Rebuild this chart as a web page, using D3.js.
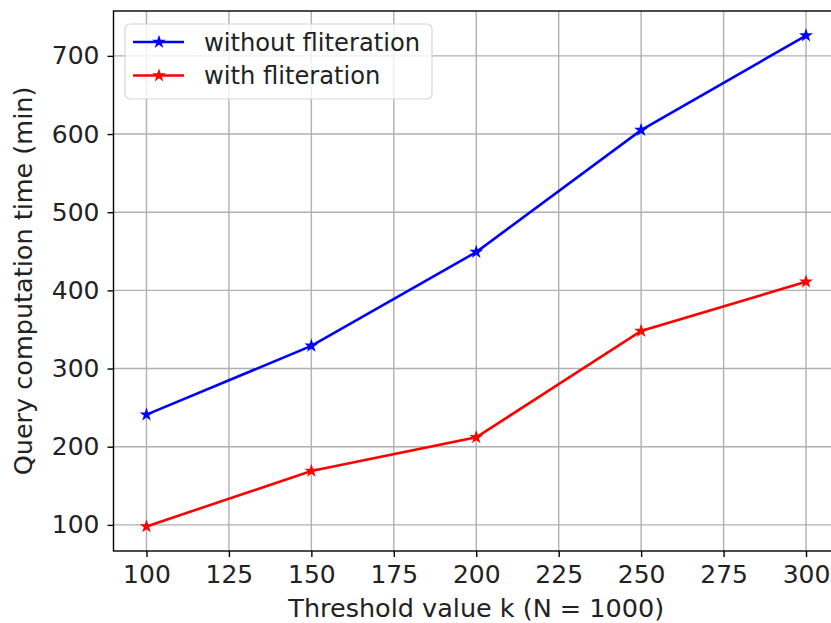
<!DOCTYPE html>
<html>
<head>
<meta charset="utf-8">
<script src="https://cdn.jsdelivr.net/npm/d3@7"></script>
<style>
  body { margin: 0; background: #fff; }
  svg { font-family: "DejaVu Sans", sans-serif; }
</style>
</head>
<body>
<svg id="canvas" width="831" height="623"></svg>
<script>
window.addEventListener('DOMContentLoaded', () => {

const kValues = [100, 150, 200, 250, 300]
const withoutFilter = [241, 329, 449, 605, 726]
const withFilter = [98, 169, 212, 348, 411]
const xTicks = [100, 125, 150, 175, 200, 225, 250, 275, 300]
const yTicks = [100, 200, 300, 400, 500, 600, 700]
const seriesNames = ['without fliteration', 'with fliteration']
const seriesColors = ['#0000ff', '#ff0000']

let svg = d3.select('#canvas')

const left = 113.5, right = 839, top = 11, bottom = 551
const fontSize = 25

let x = d3.scaleLinear().domain([90, 310]).range([left, right])
let y = d3.scaleLinear().domain([66.6, 757.4]).range([bottom, top])

// grid
svg.append('g').selectAll('line')
  .data(xTicks).enter().append('line')
  .attr('x1', d => x(d)).attr('x2', d => x(d))
  .attr('y1', top).attr('y2', bottom)
  .attr('stroke', '#b0b0b0').attr('stroke-width', 1.4)

svg.append('g').selectAll('line')
  .data(yTicks).enter().append('line')
  .attr('x1', left).attr('x2', right)
  .attr('y1', d => y(d)).attr('y2', d => y(d))
  .attr('stroke', '#b0b0b0').attr('stroke-width', 1.4)

// axes
let xAxis = svg.append('g')
  .attr('transform', `translate(0,${bottom})`)
  .call(d3.axisBottom(x).tickValues(xTicks).tickSize(6).tickPadding(8))
let yAxis = svg.append('g')
  .attr('transform', `translate(${left},0)`)
  .call(d3.axisLeft(y).tickValues(yTicks).tickSize(6).tickPadding(8))

;[xAxis, yAxis].forEach(a => {
  a.select('.domain').remove()
  a.selectAll('line').attr('stroke', '#000').attr('stroke-width', 1.4)
  a.selectAll('text').attr('font-size', fontSize).attr('fill', '#222')
    .attr('font-family', '"DejaVu Sans", sans-serif')
})

// frame
svg.append('rect')
  .attr('x', left).attr('y', top)
  .attr('width', right - left).attr('height', bottom - top)
  .attr('fill', 'none').attr('stroke', '#000').attr('stroke-width', 1.4)

let line = d3.line().x((d, i) => x(kValues[i])).y(d => y(d))
let star = d3.symbol().type(d3.symbolStar).size(60)

;[withoutFilter, withFilter].forEach((vals, s) => {
  svg.append('path')
    .datum(vals)
    .attr('d', line)
    .attr('fill', 'none')
    .attr('stroke', seriesColors[s])
    .attr('stroke-width', 2.6)
  svg.append('g').selectAll('path')
    .data(vals).enter().append('path')
    .attr('d', star)
    .attr('transform', (d, i) => `translate(${x(kValues[i])},${y(d)})`)
    .attr('fill', seriesColors[s])
})

// legend
let legend = svg.append('g')
legend.append('rect')
  .attr('x', 125).attr('y', 24).attr('width', 307).attr('height', 75)
  .attr('rx', 5).attr('fill', '#fff').attr('fill-opacity', 0.8)
  .attr('stroke', '#d6d6d6').attr('stroke-width', 1.2)

seriesNames.forEach((name, i) => {
  let ly = 42 + i * 33.5
  legend.append('line')
    .attr('x1', 133).attr('x2', 184).attr('y1', ly).attr('y2', ly)
    .attr('stroke', seriesColors[i]).attr('stroke-width', 2.6)
  legend.append('path')
    .attr('d', star)
    .attr('transform', `translate(159,${ly})`)
    .attr('fill', seriesColors[i])
  legend.append('text')
    .attr('x', 204).attr('y', ly + 8.5)
    .attr('font-size', 24.2).attr('fill', '#222')
    .text(name)
})

// axis labels
svg.append('text')
  .attr('x', (left + right) / 2).attr('y', 617)
  .attr('text-anchor', 'middle')
  .attr('font-size', 25.5).attr('fill', '#222')
  .text('Threshold value k (N = 1000)')

svg.append('text')
  .attr('transform', `translate(32,${(top + bottom) / 2}) rotate(-90)`)
  .attr('text-anchor', 'middle')
  .attr('font-size', 25.5).attr('fill', '#222')
  .text('Query computation time (min)')

})
</script>
</body>
</html>
